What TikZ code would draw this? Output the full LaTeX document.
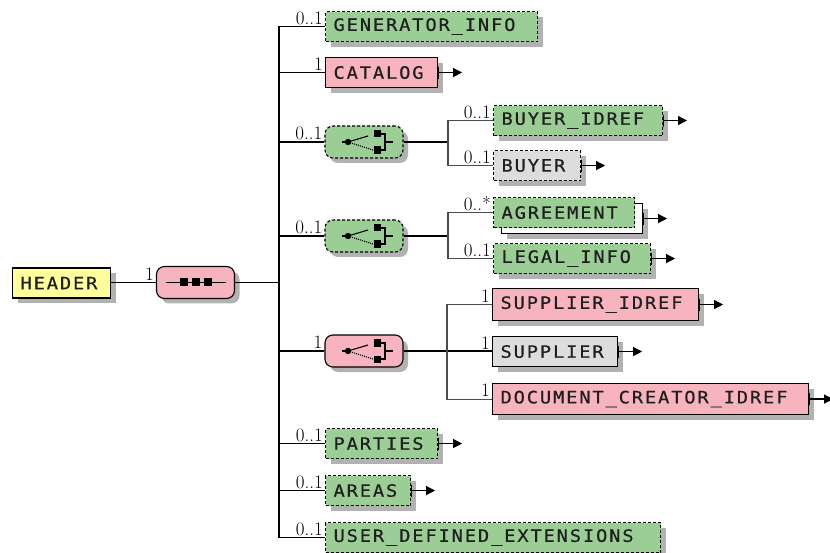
\documentclass[tikz,border=0pt]{standalone}
\usepackage{fontspec}
\newfontfamily\boxfont{DejaVu Sans Mono}[LetterSpace=11, FakeStretch=1.1, FakeBold=0.6]
\usetikzlibrary{shadows,arrows.meta,calc}

\definecolor{elgreen}{HTML}{9ACE94}
\definecolor{elpink}{HTML}{F8B4BE}
\definecolor{elgray}{HTML}{DDDDDD}
\definecolor{elyellow}{HTML}{FFFF9C}
\definecolor{shade}{HTML}{B2B2B2}

\tikzset{
  shadowed/.style={general shadow={draw=none, fill=shade, shadow xshift=5pt, shadow yshift=-5pt}},
  elem/.style={draw=black, line width=1.1pt, minimum height=30pt,
    inner xsep=8pt, inner ysep=0pt, anchor=north west, align=left,
    font=\boxfont\fontsize{17}{18}\selectfont, text=black!88},
  optional/.style={dash pattern=on 3pt off 2pt},
  compositor/.style={rectangle, rounded corners=8pt,
    draw=black, line width=1.1pt, minimum width=78pt, minimum height=32pt,
    inner sep=0pt, shadowed},
  card/.style={font=\fontsize{19}{19}\selectfont, inner sep=0pt, anchor=south east, text=black},
  link/.style={draw=black, line width=1.2pt},
  branch/.style={draw=black!70, line width=1.1pt},
  kidarrow/.style={draw=black, line width=1.2pt, -{Triangle[length=9pt,width=9pt]}},
  tick/.style={draw=black, line width=1.2pt},
  pics/seqicon/.style={code={
    \draw[line width=1.1pt] (-30,0) -- (30,0);
    \foreach \dx in {-12,0,12} \fill (\dx-4,-4) rectangle (\dx+4,4);
  }},
  pics/choiceicon/.style={code={
    \draw[line width=1.1pt] (-22,0) -- (-16,0);
    \fill (-16,0) circle (3.2);
    \draw[line width=1.1pt] (-16,0) -- (4,-6);
    \draw[line width=1.1pt, densely dotted] (-16,0) -- (9,8);
    \fill (9.5,-12) rectangle (17,-4.5);
    \fill (9.5,4.5) rectangle (17,12);
    \draw[line width=1.1pt] (16,-8) -- (21,-8) -- (21,8) -- (16,8);
    \draw[line width=1.1pt] (21,0) -- (29,0);
  }}
}

% children indicator: tick on the right edge and a short arrow
\newcommand\haskids[1]{%
  \draw[tick] ([yshift=6pt]#1.east) -- ([yshift=-6pt]#1.east);
  \draw[kidarrow] (#1.east) -- ++(24pt,0);}

\begin{document}
\begin{tikzpicture}[x=1pt,y=-1pt]
\useasboundingbox (0,0) rectangle (830,553);

% root element and its sequence
\node[elem, shadowed, fill=elyellow, text width=82pt] (header) at (12,267.5) {HEADER};
\node[compositor, fill=elpink] (seq) at (195.5,282.5) {};
\pic at (seq.center) {seqicon};
\node[card] (cseq) at ($(seq.west)+(-2,-2)$) {1};

% children of the sequence
\node[elem, shadowed, optional, fill=elgreen, text width=196pt] (gen) at (325,11) {GENERATOR\_INFO};
\node[elem, shadowed, fill=elpink, text width=96pt] (cat) at (325,57) {CATALOG};
\node[compositor, optional, fill=elgreen] (ch1) at (364,142) {};
\node[compositor, optional, fill=elgreen] (ch2) at (364,236) {};
\node[compositor, fill=elpink] (ch3) at (364,351) {};
\node[elem, shadowed, optional, fill=elgreen, text width=96pt] (parties) at (325,428) {PARTIES};
\node[elem, shadowed, optional, fill=elgreen, text width=69pt] (areas) at (325,475) {AREAS};
\node[elem, shadowed, optional, fill=elgreen, text width=319pt] (ude) at (325,522) {USER\_DEFINED\_EXTENSIONS};
\pic at (ch1.center) {choiceicon};
\pic at (ch2.center) {choiceicon};
\pic at (ch3.center) {choiceicon};

% first choice
\node[elem, shadowed, optional, fill=elgreen, text width=153pt] (bidref) at (493,105) {BUYER\_IDREF};
\node[elem, shadowed, optional, fill=elgray, text width=71pt] (buyer) at (493,150) {BUYER};

% second choice
\node[elem, shadowed, fill=white, text width=125pt] (agrback) at (501,203) {};
\node[elem, optional, fill=elgreen, text width=125pt] (agr) at (493,197) {AGREEMENT};
\node[elem, shadowed, optional, fill=elgreen, text width=141pt] (legal) at (493,243) {LEGAL\_INFO};

% third choice
\node[elem, shadowed, fill=elpink, text width=190pt, minimum height=32pt] (sidref) at (492,288) {SUPPLIER\_IDREF};
\node[elem, shadowed, fill=elgray, text width=109pt] (supplier) at (492,336) {SUPPLIER};
\node[elem, shadowed, fill=elpink, text width=300pt, minimum height=31pt] (dcidref) at (492,383) {DOCUMENT\_CREATOR\_IDREF};

% bus and branch points
\coordinate (bus) at (279,282.5);
\coordinate (br1) at (448,142);
\coordinate (br2) at (448,236);
\coordinate (br3) at (447,351);

% connectors
\draw[link] (seq.west) -- (seq.west -| header.east);
\draw[link] (seq.east) -- (bus);
\draw[link] (gen.west) -| (bus) |- (ude.west);
\draw[link] (cat.west) -- (cat.west -| bus);
\draw[link] (ch1.west) -- (ch1.west -| bus);
\draw[link] (ch2.west) -- (ch2.west -| bus);
\draw[link] (ch3.west) -- (ch3.west -| bus);
\draw[link] (parties.west) -- (parties.west -| bus);
\draw[link] (areas.west) -- (areas.west -| bus);

\draw[link] (ch1.east) -- (br1);
\draw[branch] (bidref.west) -| (br1) |- (buyer.west);
\draw[link] (ch2.east) -- (br2);
\draw[branch] (agr.west) -| (br2) |- (legal.west);
\draw[link] (ch3.east) -- (ch3.east -| supplier.west);
\draw[branch] (sidref.west) -| (br3) |- (dcidref.west);

% cardinalities
\node[card] (cgen) at ($(gen.west)+(-2,-2)$) {0..1};
\node[card] (ccat) at ($(cat.west)+(-2,-2)$) {1};
\node[card] (cch1) at ($(ch1.west)+(-2,-2)$) {0..1};
\node[card] (cch2) at ($(ch2.west)+(-2,-2)$) {0..1};
\node[card] (cch3) at ($(ch3.west)+(-2,-2)$) {1};
\node[card] (cparties) at ($(parties.west)+(-2,-2)$) {0..1};
\node[card] (careas) at ($(areas.west)+(-2,-2)$) {0..1};
\node[card] (cude) at ($(ude.west)+(-2,-2)$) {0..1};
\node[card] (cbidref) at ($(bidref.west)+(-2,-2)$) {0..1};
\node[card] (cbuyer) at ($(buyer.west)+(-2,-2)$) {0..1};
\node[card] (cagr) at ($(agr.west)+(-2,-2)$) {0..*};
\node[card] (clegal) at ($(legal.west)+(-2,-2)$) {0..1};
\node[card] (csidref) at ($(sidref.west)+(-2,-2)$) {1};
\node[card] (csupplier) at ($(supplier.west)+(-2,-2)$) {1};
\node[card] (cdcidref) at ($(dcidref.west)+(-2,-2)$) {1};

% children indicators
\haskids{cat}
\haskids{bidref}
\haskids{buyer}
\haskids{agrback}
\haskids{legal}
\haskids{sidref}
\haskids{supplier}
\haskids{dcidref}
\haskids{parties}
\haskids{areas}
\end{tikzpicture}
\end{document}
